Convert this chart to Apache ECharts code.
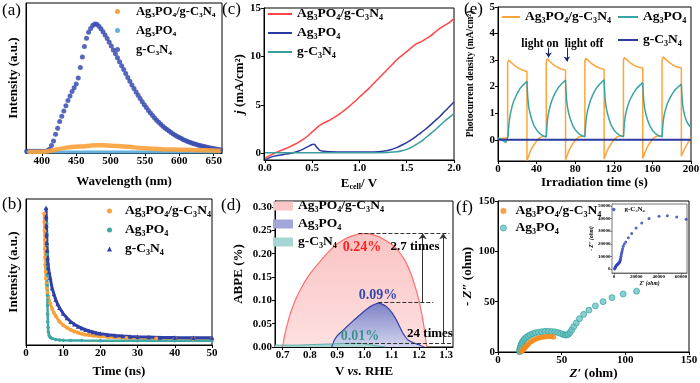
<!DOCTYPE html>
<html><head><meta charset="utf-8">
<script src="https://cdn.jsdelivr.net/npm/echarts@6/dist/echarts.min.js"></script>
<style>html,body{margin:0;padding:0;background:#fff}#c{width:700px;height:383px}</style>
</head><body><div id="c"></div>
<script>
// ---------- (a) steady-state PL ----------
const aWave = [378,381,384,387,390,393,396,399,402,405,408,411,414,417,420,423,426,429,432,435,438,441,444,447,450,453,456,459,462,465,468,471,474,477,480,483,486,489,492,495,498,501,504,507,510,513,516,519,522,525,528,531,534,537,540,543,546,549,552,555,558,561,564,567,570,573,576,579,582,585,588,591,594,597,600,603,606,609,612,615,618,621,624,627,630,633,636,639,642,645,648,651,654,657,660];
const aGcn = [1.1,1.1,1.1,1.1,1.1,1.1,1.1,1.1,1.2,1.2,1.5,2.5,5,8,12.5,16.5,21,24.5,28,31.5,35,38,41,43.5,46,50,57,64,71,76.5,80.5,83,85,86,85.8,84.5,82.8,80.8,78.6,76.3,73.8,71.4,68.7,66.1,63.5,60.9,58.2,55.6,53,50.4,47.9,45.4,43,40.7,38.5,36.3,34.2,32.2,30.3,28.4,26.7,25,23.4,21.9,20.5,19.2,17.9,16.7,15.6,14.6,13.6,12.7,11.8,11,10.3,9.6,8.9,8.3,7.7,7.2,6.7,6.2,5.8,5.4,5,4.6,4.3,4,3.7,3.4,3.1,2.9,2.6,2.4,2.2];
const aComp = [[380,0.8],[400,0.9],[410,1.3],[420,2.2],[430,3.1],[440,3.8],[450,4.2],[460,4.4],[470,4.9],[480,5.1],[490,5.1],[500,4.9],[510,4.6],[520,4.4],[530,4.0],[540,3.5],[550,3.1],[560,2.9],[570,2.7],[580,2.4],[600,2.2],[620,2.0],[640,1.8],[660,1.5]];
const aAg = [[378,0.7],[420,0.7],[460,0.7],[500,0.7],[540,0.7],[580,0.7],[620,0.7],[660,0.7]];
const aTicks = [400,450,500,550,600,650];

// ---------- (b) TRPL ----------
const bComp = [[4.9,90],[4.95,84],[5.0,78],[5.05,72],[5.1,66],[5.15,60],[5.2,55],[5.3,50],[5.4,45.5],[5.5,42],[5.6,39],[5.8,36],[6,33],[6.5,28.5],[7,25],[7.5,22],[8,19.8],[9,16],[10,13.5],[11,11.8],[12,10.4],[13,9.3],[14,8.4],[15,7.7],[16,7.1],[17,6.7],[18,6.3],[20,5.8],[22,5.4],[24,5.1],[27,4.8],[30,4.6],[35,4.4],[40,4.3],[45,4.2],[50,4.2]];
const bAg = [[5.6,83],[5.62,76],[5.64,69],[5.66,62],[5.68,55],[5.7,48],[5.72,41],[5.75,34],[5.78,27],[5.82,21],[5.87,16],[5.93,12],[6.0,9],[6.2,6.5],[6.5,5.2],[7,4.4],[8,3.8],[9,3.5],[10,3.3],[12,3.1],[15,3.0],[20,2.9],[30,2.9],[40,2.9],[50,2.9]];
const bGcn = [[5.4,94],[5.45,88],[5.5,82],[5.55,76],[5.6,70],[5.7,65],[5.8,60],[5.9,56],[6.0,53],[6.2,50],[6.5,46],[7,39],[7.5,35],[8,31],[8.5,28],[9,25.5],[10,21.5],[11,18.5],[12,16],[13,14.2],[14,12.7],[15,11.5],[16,10.5],[17,9.6],[18,8.9],[19,8.3],[20,7.8],[22,7],[24,6.5],[26,6.1],[28,5.8],[30,5.6],[33,5.4],[36,5.2],[40,5.1],[45,5],[50,4.9]];
const bTicks = [0,10,20,30,40,50];

// ---------- (c) LSV ----------
const cComp = [[0,-0.5],[0.05,-0.25],[0.1,0],[0.15,0.2],[0.2,0.4],[0.25,0.6],[0.3,0.85],[0.35,1.1],[0.4,1.4],[0.45,1.75],[0.5,2.2],[0.55,2.65],[0.6,3.0],[0.65,3.25],[0.7,3.5],[0.75,3.8],[0.8,4.15],[0.85,4.5],[0.9,4.9],[0.95,5.35],[1.0,5.8],[1.05,6.25],[1.1,6.7],[1.15,7.2],[1.2,7.7],[1.25,8.2],[1.3,8.7],[1.35,9.2],[1.4,9.7],[1.45,10.1],[1.5,10.5],[1.55,10.9],[1.6,11.3],[1.65,11.5],[1.7,11.8],[1.75,12.1],[1.8,12.5],[1.85,12.9],[1.9,13.2],[1.95,13.5],[2.0,13.9]];
const cAg = [[0,-0.7],[0.05,-0.45],[0.1,-0.3],[0.15,-0.2],[0.2,-0.12],[0.25,-0.05],[0.3,0.05],[0.35,0.2],[0.4,0.4],[0.45,0.65],[0.5,0.9],[0.52,0.92],[0.55,0.6],[0.58,0.3],[0.62,0.2],[0.7,0.15],[0.8,0.12],[0.9,0.12],[1.0,0.13],[1.1,0.12],[1.2,0.15],[1.3,0.28],[1.35,0.42],[1.4,0.6],[1.45,0.85],[1.5,1.1],[1.55,1.4],[1.6,1.75],[1.65,2.1],[1.7,2.5],[1.75,2.9],[1.8,3.35],[1.85,3.8],[1.9,4.3],[1.95,4.8],[2.0,5.3]];
const cGcn = [[0,0.05],[0.2,0.05],[0.4,0.05],[0.6,0.05],[0.8,0.05],[1.0,0.05],[1.2,0.06],[1.3,0.08],[1.4,0.15],[1.45,0.25],[1.5,0.4],[1.55,0.6],[1.6,0.9],[1.65,1.2],[1.7,1.6],[1.75,2.0],[1.8,2.4],[1.85,2.85],[1.9,3.3],[1.95,3.7],[2.0,4.1]];
const cXTicks = [0,0.5,1,1.5,2];
const cYTicks = [0,5,10,15];

// ---------- (d) ABPE ----------
const dComp = [[0.70,0],[0.705,0.018],[0.71,0.032],[0.72,0.055],[0.73,0.075],[0.75,0.105],[0.77,0.128],[0.79,0.148],[0.81,0.164],[0.83,0.178],[0.85,0.192],[0.87,0.205],[0.89,0.216],[0.91,0.225],[0.93,0.232],[0.95,0.237],[0.97,0.241],[0.99,0.243],[1.01,0.243],[1.03,0.241],[1.05,0.237],[1.07,0.231],[1.09,0.224],[1.11,0.215],[1.13,0.202],[1.15,0.184],[1.17,0.158],[1.19,0.122],[1.2,0.1],[1.21,0.072],[1.22,0.038],[1.228,0]];
const dAg = [[0.88,0],[0.885,0.008],[0.89,0.015],[0.9,0.024],[0.92,0.035],[0.94,0.046],[0.96,0.057],[0.98,0.067],[1.0,0.077],[1.02,0.086],[1.04,0.092],[1.05,0.094],[1.06,0.093],[1.08,0.087],[1.1,0.074],[1.12,0.055],[1.13,0.043],[1.14,0.031],[1.15,0.022],[1.16,0.015],[1.18,0.009],[1.2,0.005],[1.21,0.002],[1.22,0]];
const dGcn = [[0.672,0.004],[0.7,0.004],[0.75,0.004],[0.8,0.005],[0.85,0.006],[0.9,0.007],[0.95,0.008],[0.98,0.008],[1.0,0.007],[1.02,0.005],[1.05,0.002],[1.08,0]];
const dXTicks = [0.7,0.8,0.9,1.0,1.1,1.2,1.3];
const dYTicks = [0,0.05,0.1,0.15,0.2,0.25,0.3];

// ---------- (e) transient photocurrent ----------
const eComp = [[0,0.03],[5,0.06],[10,0.08],[10,2.9],[11,3.0],[12,2.98],[14,2.9],[17,2.8],[21,2.7],[25,2.63],[30,2.57],[30,-0.78],[31,-0.7],[32,-0.58],[33.5,-0.43],[35,-0.32],[37,-0.2],[39,-0.1],[41,0.0],[43.5,0.08],[46,0.12],[50,0.13],
[50,2.95],[51,3.05],[52,3.02],[54,2.94],[57,2.84],[61,2.74],[65,2.67],[70,2.62],[70,-0.75],[71,-0.67],[72,-0.55],[73.5,-0.41],[75,-0.3],[77,-0.18],[79,-0.08],[81,0.02],[83.5,0.1],[86,0.13],[90,0.14],
[90,2.98],[91,3.07],[92,3.05],[94,2.97],[97,2.87],[101,2.77],[105,2.7],[110,2.65],[110,-0.72],[111,-0.64],[112,-0.53],[113.5,-0.39],[115,-0.28],[117,-0.16],[119,-0.06],[121,0.03],[123.5,0.11],[126,0.14],[130,0.15],
[130,3.0],[131,3.1],[132,3.08],[134,3.0],[137,2.9],[141,2.8],[145,2.74],[150,2.7],[150,-0.7],[151,-0.62],[152,-0.51],[153.5,-0.37],[155,-0.26],[157,-0.14],[159,-0.04],[161,0.05],[163.5,0.12],[166,0.15],[170,0.16],
[170,3.02],[171,3.12],[172,3.1],[174,3.02],[177,2.92],[181,2.82],[185,2.75],[190,2.7],[190,-0.62],[191,-0.55],[192,-0.45],[193.5,-0.33],[195,-0.23],[197,-0.1],[199,0.02],[200,0.08]];
const eAg = [[0,0.08],[2,0.05],[4,0],[6,-0.05],[8,-0.1],[10,-0.15],
[10.5,0.15],[11,0.45],[12,0.8],[13,1.0],[14.5,1.24],[16,1.42],[18,1.6],[20,1.75],[23,1.94],[26,2.06],[30,2.2],
[30.5,1.8],[31,1.5],[32,1.2],[33.5,0.95],[35,0.76],[37.5,0.52],[40,0.37],[43,0.24],[46,0.16],[50,0.1],
[50.5,0.4],[51,0.65],[52,0.95],[53,1.12],[54.5,1.33],[56,1.5],[58,1.67],[60,1.81],[63,1.99],[66,2.11],[70,2.25],
[70.5,1.84],[71,1.53],[72,1.23],[73.5,0.97],[75,0.78],[77.5,0.53],[80,0.38],[83,0.25],[86,0.17],[90,0.11],
[90.5,0.4],[91,0.65],[92,0.95],[93,1.12],[94.5,1.33],[96,1.5],[98,1.67],[100,1.82],[103,2.0],[106,2.12],[110,2.26],
[110.5,1.85],[111,1.54],[112,1.23],[113.5,0.98],[115,0.78],[117.5,0.53],[120,0.38],[123,0.25],[126,0.17],[130,0.11],
[130.5,0.39],[131,0.63],[132,0.92],[133,1.08],[134.5,1.28],[136,1.44],[138,1.6],[140,1.73],[143,1.9],[146,2.02],[150,2.15],
[150.5,1.76],[151,1.47],[152,1.17],[153.5,0.93],[155,0.74],[157.5,0.51],[160,0.36],[163,0.24],[166,0.16],[170,0.11],
[170.5,0.38],[171,0.62],[172,0.9],[173,1.06],[174.5,1.25],[176,1.41],[178,1.56],[180,1.69],[183,1.86],[186,1.97],[190,2.1],
[190.5,1.72],[191,1.43],[192,1.15],[193.5,0.91],[195,0.73],[197.5,0.56],[200,0.47]];
const eGcn = [[0,0],[50,0],[100,0],[150,0],[200,0]];
const eXTicks = [0,40,80,120,160,200];
const eYTicks = [0,1,2,3,4,5];

// ---------- (f) EIS ----------
const fComp = [[18.5,0.5],[19,1.2],[19.5,2],[20,2.8],[20.6,3.7],[21.3,4.7],[22.1,5.8],[23,7],[24,8.3],[25.2,9.6],[26.5,10.8],[28,11.9],[29.7,12.8],[31.5,13.6],[33.4,14.3],[35.4,14.8],[37.4,15.2],[39.5,15.4],[41.6,15.3],[43.6,15]];
const fAg = [[17,0.3],[17,1.5],[17.2,3],[17.5,4.6],[17.9,6.3],[18.4,8],[19,9.6],[19.8,11.2],[20.8,12.8],[22,14.3],[23.5,15.7],[25.2,17],[27.2,18.1],[29.4,19],[31.8,19.7],[34.3,20.2],[36.9,20.5],[39.5,20.6],[42.1,20.4],[44.6,20],[47,19.3],[49.2,18.4],[51.1,17.5],[52.7,16.9],[54,16.8],[55.2,17.6],[56.5,19.4],[57.9,22],[59.5,25.2],[61.5,28.9],[64,33],[67.3,37.4],[71.4,41.6],[76.5,45.8],[82.5,50],[89.5,54],[98.3,57.6],[108.8,60.4]];
const fGcn = [[500,0],[800,600],[1100,1200],[1400,1800],[1800,2400],[2200,2900],[2700,3400],[3200,3800],[3700,4200],[4200,4600],[4700,5100],[5100,5700],[5400,6500],[5700,7500],[6000,8800],[6300,10200],[6600,11600],[6900,13000],[7300,14500],[7700,16000],[8300,18000],[9200,19800],[10500,21500],[12800,24700],[15800,28100],[19700,32600],[24800,36500],[31300,40000],[40300,41800],[47700,42200],[56100,41200],[64500,39500]];
const fTicks = [0,50,100,150];
const fInXTicks = [0,20000,40000,60000];
const fInYTicks = [0,10000,20000,30000,40000,50000];

// ---------- labels ----------
const NAME_COMP = 'Ag₃PO₄/g-C₃N₄', NAME_AG = 'Ag₃PO₄', NAME_GCN = 'g-C₃N₄';

const FONT = '"Liberation Serif", "DejaVu Serif", serif';
const txt = (s, extra) => Object.assign({color:'#000', fontFamily:FONT, fontWeight:'bold', fontSize:13}, extra||{});

function ax(gi, min, max, ticks, dec, show, fs) {
  fs = fs || 11;
  const small = fs < 8;
  return {
    type:'value', gridIndex:gi, min:min, max:max,
    axisLine:{show:true, onZero:false, lineStyle:{color:'#000', width: small ? 0.6 : 1}},
    axisTick:{show:show, inside:false, length: small ? 1.5 : 3, customValues:ticks, lineStyle:{color:'#000', width: small ? 0.6 : 1}},
    axisLabel:{show:show, customValues:ticks, margin: small ? 1.5 : 3, color:'#000', fontFamily:FONT, fontWeight:'bold', fontSize:fs,
      formatter: v => dec == null ? String(Math.round(v)) : Number(v).toFixed(dec)},
    splitLine:{show:false}, minorTick:{show:false},
    nameLocation:'middle'
  };
}
const rich = {
  i:{fontStyle:'italic', fontFamily:FONT, fontWeight:'bold', fontSize:13, color:'#000'},
  sub:{fontFamily:FONT, fontWeight:'bold', fontSize:8, color:'#000', padding:[6,0,0,0]},
  n:{fontFamily:FONT, fontWeight:'bold', fontSize:13, color:'#000'}
};
const nts = (fs) => txt('', {fontSize: fs||13, rich: rich});

const xAxes = [
  Object.assign(ax(0, 377, 662, aTicks, null, true), {name:'Wavelength (nm)', nameGap:22, nameTextStyle:nts()}),
  Object.assign(ax(1, 0, 50, bTicks, null, true), {name:'Time (ns)', nameGap:20, nameTextStyle:nts()}),
  Object.assign(ax(2, -0.01, 2.0, cXTicks, 1, true), {name:'{n|E}{sub|cell}{n|/ V}', nameGap:17, nameTextStyle:nts()}),
  Object.assign(ax(3, 0.672, 1.325, dXTicks, 1, true), {name:'{n|V }{i|vs.}{n| RHE}', nameGap:18, nameTextStyle:nts()}),
  Object.assign(ax(4, 0, 200, eXTicks, null, true), {name:'Irradiation time (s)', nameGap:14, nameTextStyle:nts()}),
  Object.assign(ax(5, 0, 150, fTicks, null, true), {name:'{i|Z′}{n| (ohm)}', nameGap:14, nameTextStyle:nts()}),
  Object.assign(ax(6, -1800, 65300, fInXTicks, null, true, 5), {name:'Z′ (ohm)', nameGap:8, nameTextStyle:txt('', {fontSize:5.5, fontStyle:'italic'})})
];
const yAxes = [
  Object.assign(ax(0, 0, 100, null, null, false), {name:'Intensity (a.u.)', nameGap:6, nameTextStyle:nts()}),
  Object.assign(ax(1, 0, 100, null, null, false), {name:'Intensity (a.u.)', nameGap:6, nameTextStyle:nts()}),
  Object.assign(ax(2, -0.7, 15, cYTicks, null, true), {name:'{i|j}{n| (mA/cm²)}', nameGap:15, nameTextStyle:nts()}),
  Object.assign(ax(3, 0, 0.3129, dYTicks, 2, true), {name:'ABPE (%)', nameGap:30, nameTextStyle:nts()}),
  ax(4, -0.8, 5, eYTicks, null, true),
  Object.assign(ax(5, 0, 150, fTicks, null, true), {name:'{n|- }{i|Z″}{n| (ohm)}', nameGap:18, nameTextStyle:nts()}),
  Object.assign(ax(6, -3200, 51600, fInYTicks, null, true, 5), {name:'- Z″ (ohm)', nameGap:15, nameTextStyle:txt('', {fontSize:5.5, fontStyle:'italic'})})
];

const G = (l,t,w,h,extra) => Object.assign({left:l, top:t, width:w, height:h, show:true, borderColor:'#000', borderWidth:1, backgroundColor:'transparent', containLabel:false, outerBoundsMode:'none'}, extra||{});
const grids = [
  G(26,3,196,150), G(26,199,186,146), G(264,8,190,152), G(275,201,178,146),
  G(498,7,193,154), G(498,201,191,151), G(612,204,75,69,{borderColor:'#777', backgroundColor:'#fff', z:5})
];

const ORANGE = '#f9a13a', LBLUE = '#62b3de', TEAL = '#3fa8a5';
const lineS = (name, xi, data, color, w, extra) => Object.assign({type:'line', name:name, xAxisIndex:xi, yAxisIndex:xi, data:data, showSymbol:false, symbol:'circle', lineStyle:{color:color, width:w}, itemStyle:{color:color}, animation:false}, extra||{});
const scat = (name, xi, data, color, size, extra) => Object.assign({type:'scatter', name:name, xAxisIndex:xi, yAxisIndex:xi, data:data, symbol:'circle', symbolSize:size, itemStyle:{color:color}, animation:false}, extra||{});

const series = [
  // (a)
  lineS('a:'+NAME_AG, 0, aAg, LBLUE, 3),
  lineS('a:'+NAME_COMP, 0, aComp, ORANGE, 4.5, {smooth:true, lineStyle:{color:ORANGE, width:4.5, opacity:0.9}}),
  scat('a:'+NAME_GCN, 0, aWave.map((w,i)=>[w, aGcn[i]]), '#3a4db0', 5, {itemStyle:{color:'#3a4db0', opacity:0.85}}),
  // (b)
  lineS('b:'+NAME_COMP, 1, bComp, ORANGE, 3, {showSymbol:true, symbolSize:4}),
  lineS('b:'+NAME_AG, 1, bAg, TEAL, 2.5, {showSymbol:true, symbolSize:3.5}),
  lineS('b:'+NAME_GCN, 1, bGcn, '#2f40a8', 3, {showSymbol:true, symbol:'triangle', symbolSize:4.5}),
  // (c)
  lineS('c:'+NAME_COMP, 2, cComp, '#ff4646', 1.5, {smooth:0.3}),
  lineS('c:'+NAME_AG, 2, cAg, '#2c3a9e', 1.5, {smooth:0.3}),
  lineS('c:'+NAME_GCN, 2, cGcn, '#3a9e9c', 1.5, {smooth:0.3}),
  // (d)
  lineS('d:'+NAME_COMP, 3, dComp, '#ff6e6e', 1.2, {smooth:0.3, areaStyle:{color:{type:'linear',x:0,y:0,x2:0,y2:1,colorStops:[{offset:0,color:'#fbc3c3'},{offset:1,color:'#fde0e0'}]}, opacity:1}}),
  lineS('d:'+NAME_AG, 3, dAg, '#3440a2', 1.2, {smooth:0.3, areaStyle:{color:{type:'linear',x:0,y:0,x2:0,y2:1,colorStops:[{offset:0,color:'#7e83c6'},{offset:1,color:'#d3d4ee'}]}, opacity:1}}),
  lineS('d:'+NAME_GCN, 3, dGcn, '#5aaea9', 1, {smooth:0.3, areaStyle:{color:'#a6d6d3', opacity:1},
    markLine:{silent:true, symbol:['none','none'], animation:false, label:{show:false},
      lineStyle:{color:'#333', width:1, type:'dashed'},
      data:[
        [{coord:[0.978,0.244]},{coord:[1.312,0.244]}],
        [{coord:[1.051,0.095]},{coord:[1.253,0.095]}],
        [{coord:[0.929,0.0086]},{coord:[1.321,0.0086]}],
        [{coord:[1.214,0.095], symbol:'none', lineStyle:{type:'solid', color:'#333', width:1}},{coord:[1.214,0.244], symbol:'arrow', symbolSize:6}],
        [{coord:[1.289,0.0086], symbol:'none', lineStyle:{type:'solid', color:'#333', width:1}},{coord:[1.289,0.244], symbol:'arrow', symbolSize:6}]
      ]
    }}),
  // (e)
  lineS('e:'+NAME_COMP, 4, eComp, '#ffa43a', 1.5),
  lineS('e:'+NAME_AG, 4, eAg, '#3aa3a3', 1.5),
  lineS('e:'+NAME_GCN, 4, eGcn, '#2b39a0', 2, {
    markLine:{silent:true, animation:false, symbol:['none','arrow'], symbolSize:5, label:{show:false},
      lineStyle:{color:'#1d2470', width:1, type:'solid'},
      data:[[{coord:[52.4,3.47]},{coord:[52.4,3.1]}],[{coord:[71.4,3.47]},{coord:[71.4,2.95]}]]}}),
  // (f)
  scat('f:'+NAME_COMP, 5, fComp, '#f28a1a', 5.5, {z:3}),
  scat('f:'+NAME_AG, 5, fAg, '#6cc4c4', 6, {itemStyle:{color:'#6cc4c4', borderColor:'#2e9a9a', borderWidth:0.8}}),
  scat('f2:'+NAME_GCN, 6, fGcn, '#3040b8', 3, {z:6})
];

const lname = n => n.split(':')[1];
const L = (o, padLeft, fs) => Object.assign({orient:'vertical', selectedMode:false, symbolKeepAspect:true, formatter:lname, padding:0,
  itemStyle:{borderWidth:0}, lineStyle:{width:0},
  textStyle:txt('', {fontSize: fs || 13.5, padding:[0,0,0,padLeft||0]})}, o);
const legends = [
  L({left:115, top:5, itemGap:6, itemWidth:5, itemHeight:5,
   data:[{name:'a:'+NAME_COMP, icon:'circle'},{name:'a:'+NAME_AG, icon:'circle'},{name:'a:'+NAME_GCN, icon:'circle'}]}, 11, 12.5),
  L({left:107, top:204, itemGap:5, itemWidth:5, itemHeight:5,
   data:[{name:'b:'+NAME_COMP, icon:'circle'},{name:'b:'+NAME_AG, icon:'circle'},{name:'b:'+NAME_GCN, icon:'triangle'}]}, 8),
  L({left:268, top:7, itemGap:5, itemWidth:24, itemHeight:2,
   data:[{name:'c:'+NAME_COMP, icon:'rect'},{name:'c:'+NAME_AG, icon:'rect'},{name:'c:'+NAME_GCN, icon:'rect'}]}),
  L({left:273, top:199, itemGap:4, itemWidth:20, itemHeight:9,
   data:[{name:'d:'+NAME_COMP, icon:'rect', itemStyle:{color:'#fbc6c6', borderWidth:0}},{name:'d:'+NAME_AG, icon:'rect', itemStyle:{color:'#a3a6d8', borderWidth:0}},{name:'d:'+NAME_GCN, icon:'rect', itemStyle:{color:'#a6d6d3', borderWidth:0}}]}),
  L({left:502, top:10, itemWidth:18, itemHeight:2,
   data:[{name:'e:'+NAME_COMP, icon:'rect'}]}),
  L({left:618, top:10, itemGap:9, itemWidth:20, itemHeight:2,
   data:[{name:'e:'+NAME_AG, icon:'rect'},{name:'e:'+NAME_GCN, icon:'rect'}]}),
  L({left:500, top:204, itemGap:3, itemWidth:6, itemHeight:6,
   data:[{name:'f:'+NAME_COMP, icon:'circle'},{name:'f:'+NAME_AG, icon:'circle', itemStyle:{color:'#6cc4c4', borderColor:'#2e9a9a', borderWidth:0.8}}]}, 4),
  L({left:612, top:206, itemWidth:3.5, itemHeight:3.5, z:10,
   data:[{name:'f2:'+NAME_GCN, icon:'circle'}]}, 4, 7)
];

const T = (text, x, y, fs, fill, weight, align, rot) => ({type:'text', z:100, x:x, y:y, rotation:rot||0, style:{text:text, x:0, y:0, fontSize:fs, fontFamily:FONT, fontWeight:weight||'bold', fill:fill||'#000', textAlign:align||'center', textVerticalAlign:'middle'}});
const graphics = [
  T('(a)', 2, 11, 17, '#000', 'normal', 'left'),
  T('(b)', 2, 205, 17, '#000', 'normal', 'left'),
  T('(c)', 222, 10, 17, '#000', 'normal', 'left'),
  T('(d)', 221, 206, 17, '#000', 'normal', 'left'),
  T('(e)', 464, 10, 17, '#000', 'normal', 'left'),
  T('(f)', 456, 208, 17, '#000', 'normal', 'left'),
  T('Photocurrent density (mA/cm²)', 471, 74, 9.5, '#000', 'bold', 'center', Math.PI/2),
  T('0.24%', 362, 247, 14, '#ff2222'),
  T('2.7 times', 415, 247, 13, '#000'),
  T('0.09%', 378, 295, 14, '#3447b0'),
  T('0.01%', 360, 336, 14, '#3a9290'),
  T('24 times', 430, 334, 13, '#000'),
  T('light on', 540, 44, 11.5, '#000'),
  T('light off', 584, 44, 11.5, '#000')
];

const chart = echarts.init(document.getElementById('c'), null, {renderer:'canvas'});
chart.setOption({
  animation:false,
  backgroundColor:'#fff',
  textStyle:{fontFamily:FONT, fontWeight:'bold', color:'#000'},
  grid:grids, xAxis:xAxes, yAxis:yAxes, legend:legends, series:series, graphic:graphics
});
</script></body></html>
